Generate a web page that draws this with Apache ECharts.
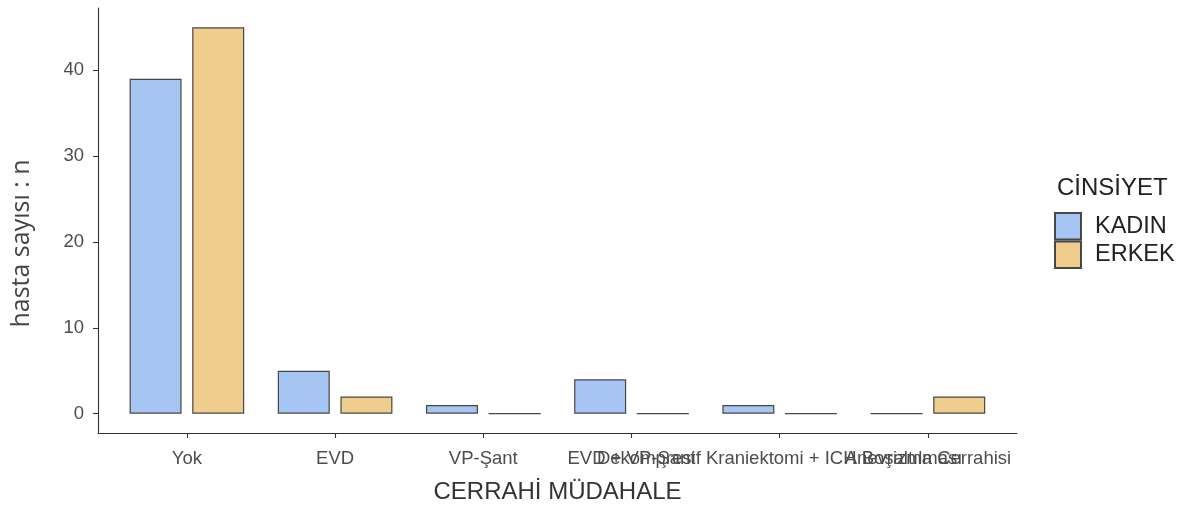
<!DOCTYPE html>
<html>
<head>
<meta charset="utf-8">
<script src="https://cdn.jsdelivr.net/npm/echarts@6/dist/echarts.min.js"></script>
<style>
  html, body { margin: 0; padding: 0; background: #fff; }
  #chart { width: 1198px; height: 509px; }
</style>
</head>
<body>
<div id="chart"></div>
<script>
// Surgical procedure categories and patient counts by sex
const categories = ['Yok', 'EVD', 'VP-Şant', 'EVD + VP-Şant', 'Dekompresif Kraniektomi + ICH Boşaltılması', 'Anevrizma Cerrahisi'];
const kadin = [39, 5, 1, 4, 1, 0];
const erkek = [45, 2, 0, 0, 0, 2];
const yTicks = [0, 10, 20, 30, 40];
const seriesNames = ['KADIN', 'ERKEK'];

const FONT = '"Liberation Sans", Arial, sans-serif';
const AXIS = '#333333';
const TICKTXT = '#4d4d4d';
const BORDER = '#474747';

const chart = echarts.init(document.getElementById('chart'), null, { renderer: 'canvas' });

const yMin = -2.25, yMax = 47.25;

chart.setOption({
  animation: false,
  backgroundColor: '#ffffff',
  textStyle: { fontFamily: FONT },
  title: {
    text: 'CİNSİYET',
    left: 1057, top: 176,
    padding: 0,
    textStyle: { fontFamily: FONT, fontSize: 24, fontWeight: 'normal', color: '#222' }
  },
  legend: {
    orient: 'vertical',
    left: 1054, top: 212,
    padding: 0,
    itemGap: 0,
    itemWidth: 26, itemHeight: 26.5,
    icon: 'rect',
    data: seriesNames,
    textStyle: { fontFamily: FONT, fontSize: 23.5, color: '#222', padding: [0, 0, 0, 9] }
  },
  grid: [
    // panel frame (axis lines span the expanded range)
    { left: 98, right: 181, top: 8, bottom: 76 },
    // category band area inside the panel
    { left: 112.8, width: 889.2, top: 8, bottom: 76 }
  ],
  xAxis: [
    {
      gridIndex: 0, type: 'value', min: 0, max: 1,
      axisLine: { show: true, onZero: false, lineStyle: { color: AXIS, width: 1.1 } },
      axisTick: { show: false }, axisLabel: { show: false }, splitLine: { show: false },
      name: 'CERRAHİ MÜDAHALE', nameLocation: 'middle', nameGap: 47,
      nameTextStyle: { fontFamily: FONT, fontSize: 24, color: '#333' }
    },
    {
      gridIndex: 1, type: 'category', data: categories,
      axisLine: { show: false, onZero: false },
      axisTick: { show: true, alignWithLabel: true, length: 5, lineStyle: { color: AXIS, width: 1.1 } },
      axisLabel: { interval: 0, margin: 16, fontFamily: FONT, fontSize: 18.5, color: TICKTXT, hideOverlap: false },
      splitLine: { show: false }
    }
  ],
  yAxis: [
    {
      gridIndex: 0, type: 'value', min: yMin, max: yMax,
      axisLine: { show: true, onZero: false, lineStyle: { color: AXIS, width: 1.1 } },
      axisTick: { show: true, length: 5, customValues: yTicks, lineStyle: { color: AXIS, width: 1.1 } },
      axisLabel: { customValues: yTicks, margin: 14, fontFamily: FONT, fontSize: 18.5, color: TICKTXT },
      splitLine: { show: false },
      name: 'hasta sayısı : n', nameLocation: 'middle', nameGap: 64, nameRotate: 90,
      nameTextStyle: { fontFamily: '"Open Sans", sans-serif', fontWeight: 400, fontSize: 25, color: '#444', padding: [0, 46, 0, 0] }
    },
    {
      gridIndex: 1, type: 'value', min: yMin, max: yMax, show: false
    }
  ],
  series: [
    {
      name: seriesNames[0], type: 'bar', xAxisIndex: 1, yAxisIndex: 1,
      data: kadin, barWidth: 52, barGap: '20.5%',
      itemStyle: { color: '#a6c5f2', borderColor: BORDER, borderWidth: 1.2 }
    },
    {
      name: seriesNames[1], type: 'bar', xAxisIndex: 1, yAxisIndex: 1,
      data: erkek, barWidth: 52, barGap: '20.5%',
      itemStyle: { color: '#efcd8d', borderColor: BORDER, borderWidth: 1.2 }
    }
  ]
});
</script>
</body>
</html>
